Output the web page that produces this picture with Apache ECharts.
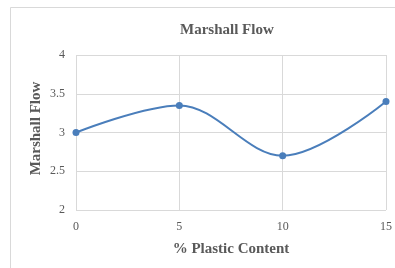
<!DOCTYPE html>
<html>
<head>
<meta charset="utf-8">
<script src="https://cdn.jsdelivr.net/npm/echarts@6/dist/echarts.min.js"></script>
<style>
  html, body { margin: 0; padding: 0; background: #fff; }
  #chart { width: 395px; height: 268px; }
</style>
</head>
<body>
<div id="chart"></div>
<script>
// values
const plasticContent = [0, 5, 10, 15]
const marshallFlow = [3.0, 3.35, 2.7, 3.4]
const yTicks = { min: 2, max: 4, step: 0.5 }
const xTicks = { min: 0, max: 15, step: 5 }

const serif = '"Liberation Serif", "Times New Roman", serif'
const textCol = '#595959'
const gridCol = '#d9d9d9'
const lineCol = '#4a7ebb'

const chart = echarts.init(document.getElementById('chart'), null, { renderer: 'canvas' })

chart.setOption({
  backgroundColor: '#fff',
  animation: false,
  title: {
    text: 'Marshall Flow',
    left: 175,
    top: 18,
    textStyle: { fontFamily: serif, fontSize: 15, fontWeight: 'bold', color: textCol }
  },
  // outer chart frame
  graphic: [{
    type: 'rect',
    shape: { x: 10.5, y: 7.5, width: 420, height: 300 },
    style: { fill: 'none', stroke: gridCol, lineWidth: 1 },
    silent: true
  }],
  grid: { left: 76, right: 9, top: 55, bottom: 58 },
  xAxis: {
    type: 'value',
    min: xTicks.min,
    max: xTicks.max,
    interval: xTicks.step,
    name: '% Plastic Content',
    nameLocation: 'middle',
    nameGap: 32,
    nameTextStyle: { fontFamily: serif, fontSize: 15, fontWeight: 'bold', color: textCol },
    axisLine: { show: false },
    axisTick: { show: false },
    axisLabel: { fontFamily: serif, fontSize: 12, color: textCol, margin: 11 },
    splitLine: { show: true, lineStyle: { color: gridCol, width: 1 } }
  },
  yAxis: {
    type: 'value',
    min: yTicks.min,
    max: yTicks.max,
    interval: yTicks.step,
    name: 'Marshall Flow',
    nameLocation: 'middle',
    nameGap: 32,
    nameMoveOverlap: false,
    nameTextStyle: { fontFamily: serif, fontSize: 15, fontWeight: 'bold', color: textCol, padding: [0, 0, 0, 8] },
    axisLine: { show: false },
    axisTick: { show: false },
    axisLabel: { fontFamily: serif, fontSize: 12, color: textCol, margin: 11 },
    splitLine: { show: true, lineStyle: { color: gridCol, width: 1 } }
  },
  series: [{
    type: 'line',
    data: plasticContent.map((x, i) => [x, marshallFlow[i]]),
    smooth: 0.35,
    symbol: 'circle',
    symbolSize: 7,
    itemStyle: { color: lineCol },
    lineStyle: { color: lineCol, width: 2 }
  }]
})
</script>
</body>
</html>
